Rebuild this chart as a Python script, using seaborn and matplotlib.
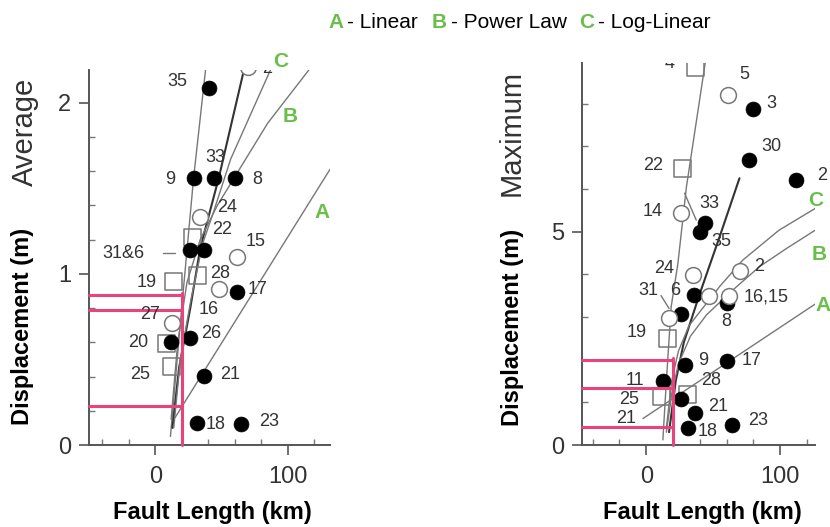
import matplotlib
matplotlib.use("Agg")
import matplotlib.pyplot as plt
import seaborn as sns
import numpy as np
from matplotlib.ticker import MultipleLocator, FixedLocator

# ---------------- data : Average displacement panel ----------------
avg_fill_x = [40.4, 29, 44.7, 60.6, 26.5, 36.6, 61.4, 11.9, 26, 36.6, 31.6, 64.9]
avg_fill_y = [2.086, 1.56, 1.56, 1.56, 1.14, 1.14, 0.896, 0.604, 0.624, 0.403, 0.127, 0.123]
avg_open_x = [34, 62, 48, 12.6, 70]
avg_open_y = [1.33, 1.10, 0.91, 0.71, 2.21]
avg_sq_x = [27.8, 31.6, 13.9, 8.8, 12.6]
avg_sq_y = [1.21, 0.99, 0.955, 0.595, 0.46]
avg_labels = ["35", "9", "33", "8", "24", "22", "31&6", "15", "19", "28", "16", "17",
              "27", "20", "26", "25", "21", "18", "23", "2"]
avg_label_x = [16.4, 11.4, 45.5, 77, 54.3, 50.5, -24, 75.8, -6.3, 49, 40.4, 77,
               -3.8, -12.6, 42, -11.4, 56.8, 45.5, 85.8, 84.6]
avg_label_y = [2.125, 1.55, 1.68, 1.55, 1.385, 1.257, 1.12, 1.19, 0.95, 1.0, 0.79, 0.91,
               0.76, 0.60, 0.65, 0.41, 0.41, 0.117, 0.136, 2.2]
# fitted / reference lines
avg_line35_x = [11.5, 20, 29, 38]
avg_line35_y = [0.05, 0.8, 1.56, 2.19]
avg_dark_x = [13, 18, 26.5, 34, 48, 67]
avg_dark_y = [0.1, 0.45, 0.8, 1.15, 1.56, 2.19]
avg_C_x = [14, 19, 27, 36, 44, 57, 87]
avg_C_y = [0.1, 0.5, 0.85, 1.18, 1.36, 1.67, 2.19]
avg_B_x = [12, 17, 24, 34, 47, 62, 85, 116]
avg_B_y = [0.15, 0.6, 0.95, 1.2, 1.4, 1.59, 1.88, 2.19]
avg_A_x = [15, 132]
avg_A_y = [0.16, 1.61]
avg_pink_h = [0.875, 0.79, 0.23]
avg_pink_v_top = 0.89
pink_len = 20

# ---------------- data : Maximum displacement panel ----------------
max_fill_x = [79.6, 77, 112, 44, 40, 36, 60, 26, 28.6, 60, 12.4, 26, 36.6, 31, 64]
max_fill_y = [7.88, 6.67, 6.2, 5.19, 5.0, 3.51, 3.32, 3.08, 1.87, 1.97, 1.5, 1.07, 0.74, 0.39, 0.47]
max_open_x = [61, 26, 34.8, 70, 46.7, 61.6, 16.9]
max_open_y = [8.2, 5.43, 3.98, 4.08, 3.49, 3.50, 2.97]
max_sq_x = [37, 27.3, 16.1, 11.2, 31]
max_sq_y = [8.85, 6.48, 2.5, 1.13, 1.19]
max_labels = ["4", "5", "3", "30", "2", "22", "14", "33", "35", "24", "2", "31", "6",
              "16,15", "8", "19", "9", "17", "11", "28", "25", "21", "21", "18", "23"]
max_label_x = [17.4, 73.4, 93.3, 93.3, 131, 5, 5, 47.2, 56, 13.7, 84.6, 1.2, 21.9,
               89.5, 59.7, -7.5, 42.2, 78.4, -8.7, 48.5, -12.5, 53.4, -15, 46, 83.3]
max_label_y = [8.95, 8.67, 8.0, 6.99, 6.32, 6.56, 5.46, 5.66, 4.76, 4.14, 4.18, 3.63, 3.63,
               3.46, 2.89, 2.63, 1.99, 1.97, 1.52, 1.52, 1.07, 0.91, 0.62, 0.31, 0.585]
max_steep_x = [12.4, 15, 18.6, 23.6, 30, 44]
max_steep_y = [0.12, 1.5, 3.24, 4.25, 6.05, 8.95]
max_branch_x = [28.6, 37.3]
max_branch_y = [5.9, 5.27]
max_dark_x = [17, 22, 28, 40, 55, 69.6]
max_dark_y = [0.3, 1.5, 2.4, 3.55, 4.9, 6.25]
max_C_x = [15, 19, 24, 32, 42, 54.7, 72, 99, 126]
max_C_y = [0.4, 1.5, 2.2, 2.8, 3.2, 3.71, 4.33, 5.03, 5.54]
max_B_x = [15, 19, 24, 33, 45, 64.6, 84.6, 104.5, 126]
max_B_y = [0.3, 1.2, 1.9, 2.55, 3.05, 3.63, 4.18, 4.6, 5.03]
max_A_x = [-2.5, 127]
max_A_y = [0.62, 3.32]
max_pink_h = [1.99, 1.34, 0.43]
max_pink_v_top = 2.03

legend_letters = ["A", "B", "C"]
legend_names = ["- Linear", "- Power Law", "- Log-Linear"]

# ---------------- style ----------------
sns.set_theme(style="white")
plt.rcParams["font.family"] = ["Liberation Sans", "DejaVu Sans"]

GREEN = "#6abf4a"
PINK = "#e8437c"
GRAY = "#777777"
TXT = "#333333"

fig = plt.figure(figsize=(8.3, 5.27), dpi=100)
W, H = 830, 527
axL = fig.add_axes([89 / W, (H - 445) / H, 241 / W, 375 / H])
axR = fig.add_axes([582 / W, (H - 445) / H, 233 / W, 382 / H])


def lines(ax, xs, ys, color=GRAY, lw=1.0, z=2):
    sns.lineplot(x=xs, y=ys, ax=ax, sort=False, estimator=None, color=color,
                 lw=lw, zorder=z, legend=False)


def style_axes(ax, xlim, ylim, ymajor, yminor):
    ax.set_xlim(*xlim)
    ax.set_ylim(*ylim)
    for s in ["top", "right"]:
        ax.spines[s].set_visible(False)
    for s in ["left", "bottom"]:
        ax.spines[s].set_color("#555555")
        ax.spines[s].set_linewidth(1.4)
    ax.xaxis.set_major_locator(FixedLocator([0, 100]))
    ax.xaxis.set_minor_locator(FixedLocator([-40, -20, 20, 40, 60, 80, 120]))
    ax.yaxis.set_major_locator(MultipleLocator(ymajor))
    ax.yaxis.set_minor_locator(MultipleLocator(yminor))
    ax.tick_params(which="major", direction="out", length=7, width=1.2, color="#555555",
                   labelsize=17, labelcolor=TXT, bottom=True, left=True)
    ax.tick_params(axis="x", which="major", pad=8)
    ax.tick_params(axis="y", which="major", pad=6)
    ax.tick_params(which="minor", direction="in", length=4, width=1.0, color="#777777",
                   bottom=True, left=True)
    ax.set_facecolor("white")


def markers(ax, fx, fy, ox, oy, sx, sy):
    sns.scatterplot(x=fx, y=fy, ax=ax, marker="o", s=115, color="black",
                    edgecolor="black", linewidth=0.5, zorder=5, legend=False)
    sns.scatterplot(x=ox, y=oy, ax=ax, marker="o", s=130, facecolor="white",
                    edgecolor=GRAY, linewidth=1.1, zorder=6, legend=False)
    sns.scatterplot(x=sx, y=sy, ax=ax, marker="s", s=150, facecolor="none",
                    edgecolor=GRAY, linewidth=1.1, zorder=4, legend=False)


def pink(ax, hs, vtop, xmin):
    for h in hs:
        ax.plot([xmin, pink_len], [h, h], color=PINK, lw=2.2, zorder=7, clip_on=False)
    ax.plot([pink_len, pink_len], [0, vtop], color=PINK, lw=2.2, zorder=7, clip_on=False)


# ---------- left panel ----------
lines(axL, avg_line35_x, avg_line35_y)
lines(axL, avg_dark_x, avg_dark_y, color="#333333", lw=1.5)
lines(axL, avg_C_x, avg_C_y)
lines(axL, avg_B_x, avg_B_y)
lines(axL, avg_A_x, avg_A_y)
lines(axL, [6, 15], [1.12, 1.12])
markers(axL, avg_fill_x, avg_fill_y, avg_open_x, avg_open_y, avg_sq_x, avg_sq_y)
style_axes(axL, (-50, 132), (0, 2.19), 1, 0.2)
pink(axL, avg_pink_h, avg_pink_v_top, -50)
for t, x, y in zip(avg_labels, avg_label_x, avg_label_y):
    axL.text(x, y, t, fontsize=13, color=TXT, ha="center", va="center", zorder=8,
             clip_on=True)
for t, x, y in zip(legend_letters, [126, 102, 94.7], [1.355, 1.92, 2.24]):
    axL.text(x, y, t, fontsize=15, color=GREEN, fontweight="bold", ha="center",
             va="center", clip_on=False)

# ---------- right panel ----------
lines(axR, max_steep_x, max_steep_y)
lines(axR, max_branch_x, max_branch_y)
lines(axR, max_dark_x, max_dark_y, color="#333333", lw=1.5)
lines(axR, max_C_x, max_C_y)
lines(axR, max_B_x, max_B_y)
lines(axR, max_A_x, max_A_y)
lines(axR, [11, 17], [3.5, 3.2])
markers(axR, max_fill_x, max_fill_y, max_open_x, max_open_y, max_sq_x, max_sq_y)
style_axes(axR, (-48, 126), (0, 8.95), 5, 1)
pink(axR, max_pink_h, max_pink_v_top, -48)
for t, x, y in zip(max_labels, max_label_x, max_label_y):
    axR.text(x, y, t, fontsize=13, color=TXT, ha="center", va="center", zorder=8,
             clip_on=(t == "4"))
for t, x, y in zip(legend_letters, [132, 128.8, 126.3], [3.28, 4.47, 5.72]):
    axR.text(x, y, t, fontsize=15, color=GREEN, fontweight="bold", ha="center",
             va="center", clip_on=False)

# ---------- axis labels ----------
for ax, lx, ly, word, wx, wy, xx, xy in [
        (axL, -0.278, 0.315, "Average", -0.266, 0.835, 0.51, -0.181),
        (axR, -0.30, 0.309, "Maximum", -0.30, 0.817, 0.515, -0.178)]:
    ax.set_ylabel("Displacement (m)", fontsize=17, fontweight="bold", color="black",
                  va="center", ha="center")
    ax.yaxis.set_label_coords(lx, ly)
    ax.set_xlabel("Fault Length (km)", fontsize=17, fontweight="bold", color="black",
                  va="center", ha="center")
    ax.xaxis.set_label_coords(xx, xy)
    ax.text(wx, wy, word, transform=ax.transAxes, rotation=90, fontsize=21,
            color=TXT, ha="center", va="center")

# ---------- top legend ----------
ly = 1 - 22 / H
for letter, name, x0, x1 in zip(legend_letters, legend_names, [328, 432, 579], [347, 451, 598]):
    fig.text(x0 / W, ly, letter, fontsize=15, color=GREEN, fontweight="bold",
             ha="left", va="center")
    fig.text(x1 / W, ly, name, fontsize=15, color="black", ha="left", va="center")

fig.savefig("out.png", dpi=100, facecolor="white")
